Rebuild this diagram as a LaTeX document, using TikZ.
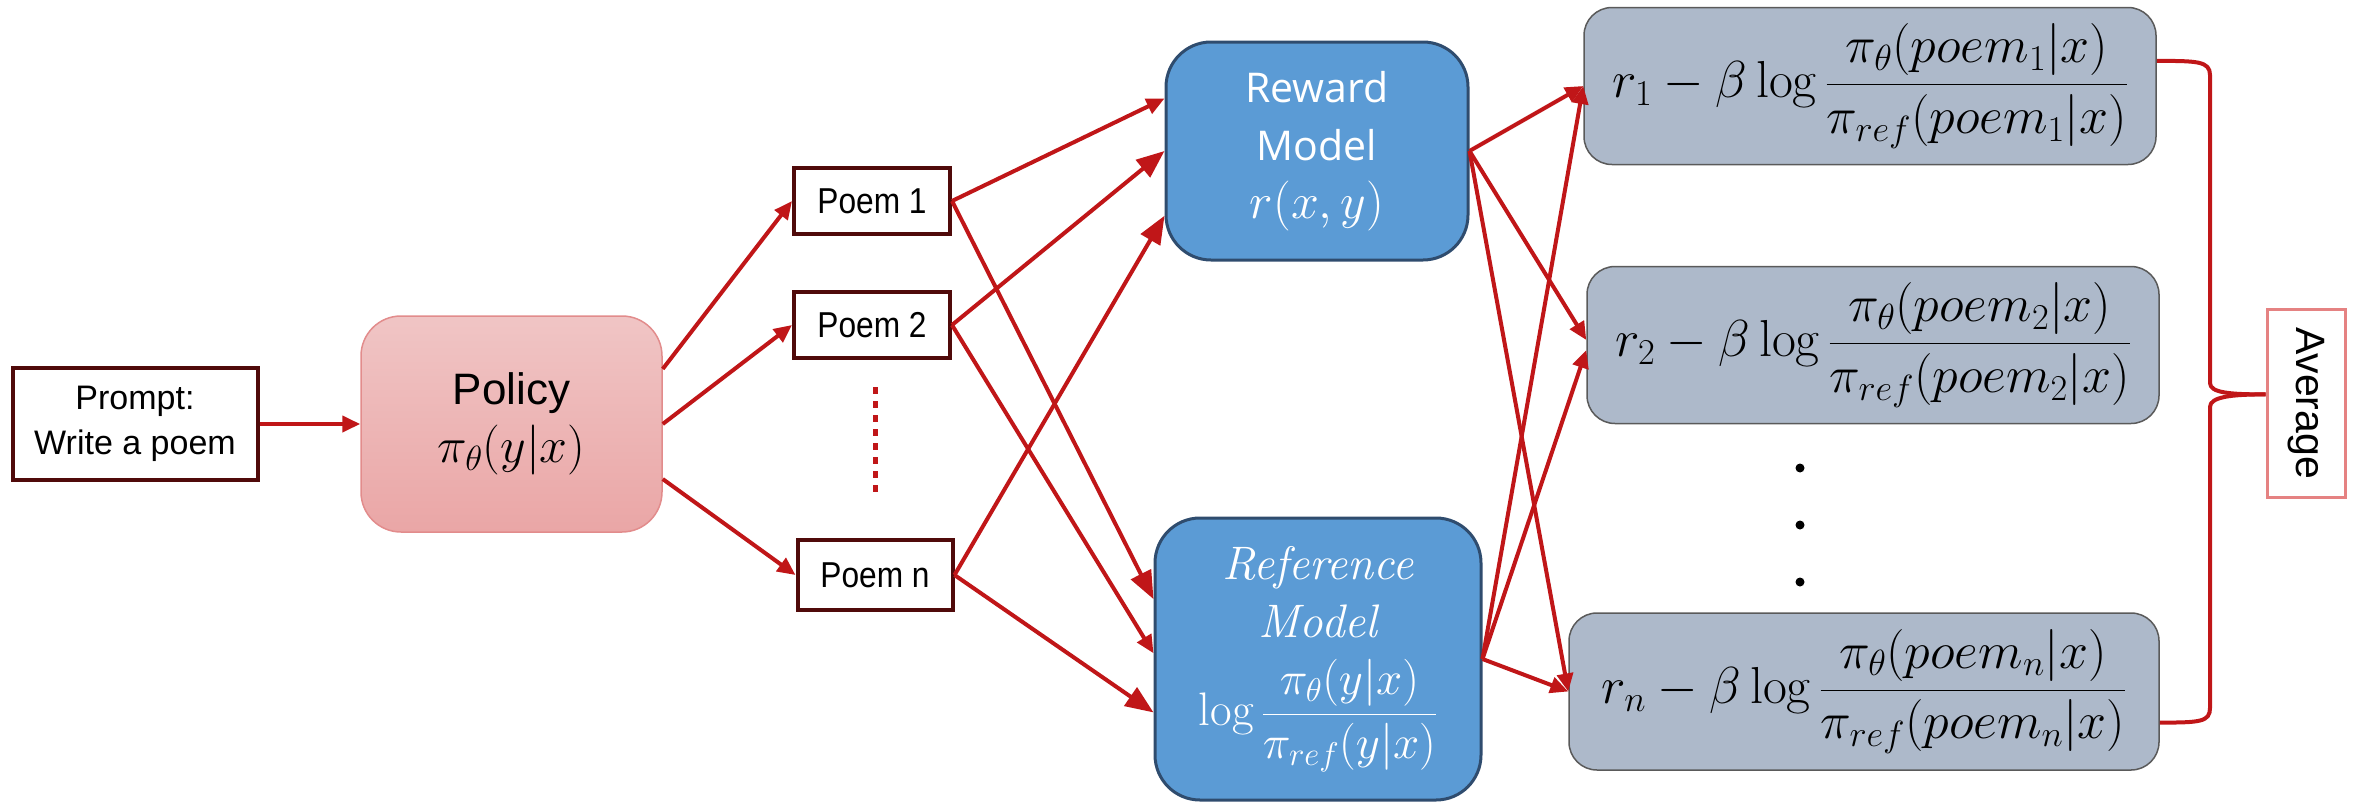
\RequirePackage{fix-cm}
\documentclass[tikz,border=0pt]{standalone}
\usepackage{fontspec}
\usepackage{amsmath}
\usetikzlibrary{arrows.meta}

\newfontfamily\arialfont{Liberation Sans}
\newfontfamily\arialnarrow[FakeStretch=0.88]{Liberation Sans}
\newfontfamily\opensansfont{Open Sans}

\definecolor{linkred}{RGB}{192,22,24}
\definecolor{boxmaroon}{RGB}{80,10,10}
\definecolor{pinktop}{RGB}{240,197,197}
\definecolor{pinkbot}{RGB}{234,166,166}
\definecolor{pinkline}{RGB}{226,140,140}
\definecolor{modelblue}{RGB}{91,155,213}
\definecolor{modelline}{RGB}{47,76,110}
\definecolor{slate}{RGB}{173,185,202}
\definecolor{slateline}{RGB}{90,90,90}
\definecolor{avgline}{RGB}{229,130,130}

\begin{document}
\begin{tikzpicture}[x=1pt,y=-1pt,
  textbox/.style={draw=boxmaroon,line width=4pt,fill=white,inner sep=0pt,align=center},
  poembox/.style={textbox,minimum width=156,minimum height=66,
    font={\arialnarrow\fontsize{36}{42}\selectfont}},
  policybox/.style={draw=pinkline,line width=1.5pt,top color=pinktop,bottom color=pinkbot,
    rounded corners=40pt,inner sep=0pt,align=center,minimum width=301,minimum height=216,
    font={\arialfont\fontsize{44}{56}\selectfont}},
  modelbox/.style={draw=modelline,line width=3pt,fill=modelblue,text=white,
    rounded corners=45pt,inner sep=0pt,align=center},
  scorebox/.style={draw=slateline,line width=1.5pt,fill=slate,rounded corners=28pt,
    inner sep=0pt,minimum height=157,font={\fontsize{52}{60}\selectfont}},
  link/.style={draw=linkred,line width=4pt,-{Triangle[length=18pt,width=16pt]}},
  linkbig/.style={link,-{Triangle[length=28pt,width=22pt]}},
  bracepath/.style={draw=linkred,line width=4pt,line join=round},
]
\useasboundingbox (0,0) rectangle (2359,801);

% input prompt and policy
\node[textbox,minimum width=245,minimum height=112,
  font={\arialfont\fontsize{34}{45}\selectfont}] (prompt) at (135,424) {Prompt:\\Write a poem};
\node[policybox] (policy) at (511.5,424)
  {Policy\\[2pt]{\fontsize{50}{56}\selectfont$\pi_\theta(y|x)$}};

% sampled poems
\node[poembox] (poem1) at (872,201) {Poem 1};
\node[poembox] (poem2) at (872,325) {Poem 2};
\node[poembox,minimum width=155,minimum height=70] (poemn) at (875,575) {Poem n};
\draw[linkred,line width=5pt,dash pattern=on 7pt off 7pt] (875,387) -- (875,498);

% reward and reference models
\node[modelbox,minimum width=302,minimum height=218,
  font={\opensansfont\fontsize{41}{58}\selectfont}] (reward) at (1317,151)
  {Reward\\Model\\{\fontsize{50}{58}\selectfont$r(x,y)$}};
\node[modelbox,minimum width=326,minimum height=282,
  font={\fontsize{47}{58}\selectfont}] (refm) at (1318,659)
  {\itshape Reference\\ \itshape Model\\[20pt]
   $\log\dfrac{\pi_\theta(y|x)}{\pi_{ref}(y|x)}$};

% per-poem scores
\node[scorebox,minimum width=572] (r1) at (1870,86)
  {$r_1-\beta\log\dfrac{\pi_\theta(poem_1|x)}{\pi_{ref}(poem_1|x)}$};
\node[scorebox,minimum width=572] (r2) at (1873,345)
  {$r_2-\beta\log\dfrac{\pi_\theta(poem_2|x)}{\pi_{ref}(poem_2|x)}$};
\node[scorebox,minimum width=590] (rn) at (1864,691.5)
  {$r_n-\beta\log\dfrac{\pi_\theta(poem_n|x)}{\pi_{ref}(poem_n|x)}$};
\foreach \yy in {468,525,582} \fill (1800,\yy) circle[radius=4.5pt];

% average
\node[draw=avgline,line width=3pt,fill=white,inner sep=0pt,minimum width=78,minimum height=188,
  font={\arialfont\fontsize{41}{48}\selectfont}] (avg) at (2306,403) {\rotatebox{-90}{Average}};

% connectors
\draw[link] (prompt.east) -- (policy.west);
\draw[link] (policy.20) -- (poem1.west);
\draw[link] (policy.east) -- (poem2.west);
\draw[link] (policy.340) -- (poemn.west);

\draw[link] (poem1.east) -- (reward.161);
\draw[linkbig] (poem2.east) -- (reward.west);
\draw[linkbig] (poemn.east) -- (reward.203);
\draw[linkbig] (poem1.east) -- (refm.160);
\draw[link] (poem2.east) -- (refm.178);
\draw[linkbig] (poemn.east) -- (refm.198);

\draw[link] (reward.east) -- (r1.west);
\draw[link] (reward.east) -- (r2.179);
\draw[link] (reward.east) -- (rn.west);
\draw[link] (refm.east) -- (r1.west);
\draw[link] (refm.east) -- (r2.181);
\draw[link] (refm.east) -- (rn.west);

% brace gathering the scores
\draw[bracepath] (r1.5) .. controls +(40,0) and +(0,-14) .. (2210,75) -- (2210,383)
  .. controls +(0,10) and +(-35,0) .. (avg.168);
\draw[bracepath] (rn.354) .. controls +(40,0) and +(0,14) .. (2210,708) -- (2210,407)
  .. controls +(0,-10) and +(-35,0) .. (avg.168);
\end{tikzpicture}
\end{document}
